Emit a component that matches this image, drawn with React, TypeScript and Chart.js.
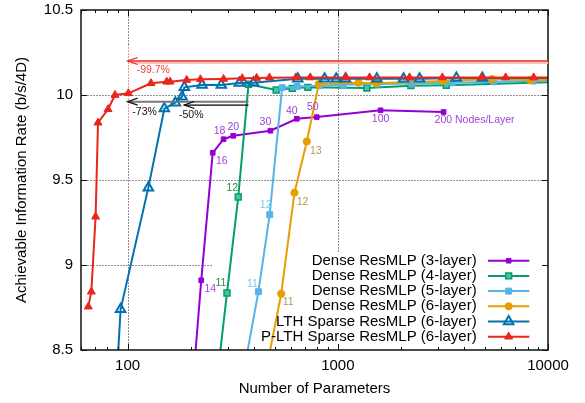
import React, { useEffect, useRef } from 'react';
import { Chart, registerables } from 'chart.js';

Chart.register(...registerables);

const FONT = "'Liberation Sans', Arial, Helvetica, sans-serif";

// tick labels
const xTickValues = [100, 1000, 10000];
const yTickValues = [8.5, 9, 9.5, 10, 10.5];
const xMinorTicks = [60, 70, 80, 90, 200, 300, 400, 500, 600, 700, 800, 900, 2000, 3000, 4000, 5000, 6000, 7000, 8000, 9000];

// series names
const seriesNames = [
  'Dense ResMLP (3-layer)',
  'Dense ResMLP (4-layer)',
  'Dense ResMLP (5-layer)',
  'Dense ResMLP (6-layer)',
  'LTH Sparse ResMLP (6-layer)',
  'P-LTH Sparse ResMLP (6-layer)',
];

// Dense ResMLP (3-layer)
const dense3X = [198, 224, 254, 286, 318, 478, 638, 794, 1597, 3186];
const dense3Y = [8.09, 8.91, 9.66, 9.74, 9.76, 9.79, 9.86, 9.87, 9.91, 9.9];
// Dense ResMLP (4-layer)
const dense4X = [253, 297, 336, 376, 509, 607, 720, 1374, 2227, 3281, 13000];
const dense4Y = [8.09, 8.835, 9.4, 10.063, 10.029, 10.039, 10.045, 10.041, 10.055, 10.057, 10.08];
// Dense ResMLP (5-layer)
const dense5X = [324, 419, 474, 543, 640, 820, 1060, 1550, 2250, 3500, 5500, 8500, 13000];
const dense5Y = [8.09, 8.843, 9.296, 10.043, 10.05, 10.055, 10.06, 10.065, 10.068, 10.072, 10.078, 10.082, 10.085];
// Dense ResMLP (6-layer)
const dense6X = [410, 538, 622, 712, 812, 1255, 1524, 3163, 5408, 8244, 13000];
const dense6Y = [8.09, 8.831, 9.425, 9.727, 10.065, 10.072, 10.069, 10.082, 10.094, 10.088, 10.09];
// LTH Sparse ResMLP (6-layer)
const lthX = [86.4, 92.6, 125.5, 149.5, 168.7, 181.6, 186.2, 226, 279, 340, 397, 645, 865, 983, 1088, 1533, 2055, 2449, 3663, 4870, 13000];
const lthY = [8.09, 8.739, 9.455, 9.92, 9.955, 9.99, 10.045, 10.059, 10.059, 10.07, 10.072, 10.095, 10.095, 10.095, 10.095, 10.095, 10.095, 10.095, 10.1, 10.1, 10.1];
// P-LTH Sparse ResMLP (6-layer)
const plthX = [65, 67.2, 70.4, 72.3, 80.7, 87.1, 100.8, 129.2, 153.4, 159.2, 191, 222, 286, 351, 411, 473, 632, 739, 1096, 1416, 2193, 3142, 4833, 6290, 8550, 13000];
const plthY = [8.755, 8.843, 9.284, 9.837, 9.916, 10.0, 10.01, 10.069, 10.078, 10.078, 10.088, 10.092, 10.094, 10.098, 10.1, 10.102, 10.103, 10.103, 10.103, 10.103, 10.103, 10.103, 10.103, 10.103, 10.103, 10.103];

const seriesX = [dense3X, dense4X, dense5X, dense6X, lthX, plthX];
const seriesY = [dense3Y, dense4Y, dense5Y, dense6Y, lthY, plthY];

// styles
const lineColors = ['#9400D3', '#009E73', '#56B4E9', '#E69F00', '#0072B2', '#E8261C'];
const labelColors = ['#A33FDB', '#2D8A43', '#7CC6EF', '#B89455'];
const pointStyles = ['rect', 'rect', 'rect', 'circle', 'triangle', 'triangle'];
const pointRadii = [3.3, 4.2, 4.2, 3.6, 5.5, 4.6];
const pointFills = ['#9400D3', '#4FC29C', '#56B4E9', '#E69F00', 'rgba(255,255,255,0)', '#E8261C'];
const pointBorderWidths = [1, 1.5, 1, 1, 2, 1];

// node-count labels: series, point index, text, pixel offset
const nodeLabels = [
  { s: 0, i: 1, t: '14', dx: 9, dy: 9 },
  { s: 0, i: 2, t: '16', dx: 9, dy: 8 },
  { s: 0, i: 3, t: '18', dx: -4, dy: -8 },
  { s: 0, i: 4, t: '20', dx: 0, dy: -9 },
  { s: 0, i: 5, t: '30', dx: -5, dy: -9 },
  { s: 0, i: 6, t: '40', dx: -5, dy: -8 },
  { s: 0, i: 7, t: '50', dx: -4, dy: -10 },
  { s: 0, i: 8, t: '100', dx: 0, dy: 9 },
  { s: 0, i: 9, t: '200 Nodes/Layer', dx: 31, dy: 8.5 },
  { s: 1, i: 1, t: '11', dx: -6, dy: -10 },
  { s: 1, i: 2, t: '12', dx: -6, dy: -9 },
  { s: 2, i: 1, t: '11', dx: -6, dy: -8 },
  { s: 2, i: 2, t: '12', dx: -4, dy: -10 },
  { s: 3, i: 1, t: '11', dx: 7, dy: 8 },
  { s: 3, i: 2, t: '12', dx: 8, dy: 9 },
  { s: 3, i: 3, t: '13', dx: 9, dy: 10 },
];

function drawMarker(ctx: CanvasRenderingContext2D, style: string, x: number, y: number, r: number, fill: string, stroke: string, bw: number) {
  ctx.beginPath();
  if (style === 'rect') {
    const s = r * Math.SQRT1_2;
    ctx.rect(x - s, y - s, 2 * s, 2 * s);
  } else if (style === 'circle') {
    ctx.arc(x, y, r, 0, Math.PI * 2);
  } else {
    ctx.moveTo(x, y - r);
    ctx.lineTo(x + 0.866 * r, y + 0.5 * r);
    ctx.lineTo(x - 0.866 * r, y + 0.5 * r);
  }
  ctx.closePath();
  ctx.fillStyle = fill;
  ctx.fill();
  ctx.lineWidth = bw;
  ctx.strokeStyle = stroke;
  ctx.stroke();
}

function arrowLeft(ctx: CanvasRenderingContext2D, xHead: number, xTail: number, y: number, lineColor: string, headColor: string, lw: number) {
  ctx.save();
  ctx.setLineDash([]);
  ctx.strokeStyle = lineColor;
  ctx.lineWidth = lw;
  ctx.beginPath();
  ctx.moveTo(xTail, y);
  ctx.lineTo(xHead, y);
  ctx.stroke();
  ctx.strokeStyle = headColor;
  ctx.lineWidth = 1.2;
  ctx.beginPath();
  ctx.moveTo(xHead + 10, y - 3.5);
  ctx.lineTo(xHead, y);
  ctx.lineTo(xHead + 10, y + 3.5);
  ctx.stroke();
  ctx.restore();
}

const framePlugin = {
  id: 'gnuframe',
  beforeDatasetsDraw(chart: any) {
    const { ctx, scales } = chart;
    const xs = scales.x, ys = scales.y;
    ctx.save();
    ctx.strokeStyle = '#222';
    ctx.lineWidth = 1;
    ctx.setLineDash([1, 2]);
    const seg = (x1: number, y1: number, x2: number, y2: number) => {
      ctx.beginPath();
      ctx.moveTo(Math.round(xs.getPixelForValue(x1)) + 0.5, Math.round(ys.getPixelForValue(y1)) + 0.5);
      ctx.lineTo(Math.round(xs.getPixelForValue(x2)) + 0.5, Math.round(ys.getPixelForValue(y2)) + 0.5);
      ctx.stroke();
    };
    seg(100, 10.5, 100, 10.3);
    seg(100, 9.8, 100, 8.5);
    seg(1000, 10.5, 1000, 9.07);
    seg(60, 10, 10000, 10);
    seg(60, 9.5, 10000, 9.5);
    seg(60, 9, 253, 9);
    // red dotted marker at 100 parameters
    ctx.strokeStyle = '#E8261C';
    seg(100, 10.3, 100, 9.8);
    ctx.restore();
  },
  afterDatasetsDraw(chart: any) {
    const { ctx, chartArea: a, scales } = chart;
    const xs = scales.x, ys = scales.y;
    ctx.save();
    // border
    ctx.strokeStyle = '#111';
    ctx.lineWidth = 1.5;
    ctx.strokeRect(a.left, a.top, a.right - a.left, a.bottom - a.top);
    // inward ticks
    ctx.lineWidth = 1;
    const tick = (x1: number, y1: number, x2: number, y2: number) => {
      ctx.beginPath();
      ctx.moveTo(x1, y1);
      ctx.lineTo(x2, y2);
      ctx.stroke();
    };
    xTickValues.forEach((v) => {
      const px = Math.round(xs.getPixelForValue(v)) + 0.5;
      tick(px, a.bottom, px, a.bottom - 6);
      tick(px, a.top, px, a.top + 6);
    });
    xMinorTicks.forEach((v) => {
      const px = Math.round(xs.getPixelForValue(v)) + 0.5;
      tick(px, a.bottom, px, a.bottom - 3);
      tick(px, a.top, px, a.top + 3);
    });
    yTickValues.forEach((v) => {
      const py = Math.round(ys.getPixelForValue(v)) + 0.5;
      tick(a.left, py, a.left + 6, py);
      tick(a.right, py, a.right - 6, py);
    });

    // annotations
    const redY = ys.getPixelForValue(10.2);
    const x100 = xs.getPixelForValue(100);
    ctx.strokeStyle = '#F7C4C0';
    ctx.lineWidth = 2;
    tick(x100 + 4, redY + 2, a.right, redY + 2);
    arrowLeft(ctx, x100, a.right, redY, '#E8261C', '#E8261C', 1.3);
    ctx.font = `10.5px ${FONT}`;
    ctx.textBaseline = 'middle';
    ctx.textAlign = 'left';
    ctx.fillStyle = '#F0453A';
    ctx.fillText('-99.7%', x100 + 9, redY + 9);

    const xFrom = xs.getPixelForValue(376);
    const yA = ys.getPixelForValue(9.961);
    const yB = ys.getPixelForValue(9.941);
    const xB = xs.getPixelForValue(186);
    arrowLeft(ctx, x100, xFrom, yA, '#777', '#111', 2);
    arrowLeft(ctx, xB, xFrom, yB, '#000', '#000', 1.3);
    ctx.fillStyle = '#111';
    ctx.textAlign = 'center';
    ctx.fillText('-73%', x100 + 17, yA + 10);
    ctx.fillText('-50%', xB + 7, yB + 10);

    // node labels
    nodeLabels.forEach((l) => {
      const px = xs.getPixelForValue(seriesX[l.s][l.i]);
      const py = ys.getPixelForValue(seriesY[l.s][l.i]);
      ctx.fillStyle = labelColors[l.s];
      ctx.textAlign = 'center';
      ctx.fillText(l.t, px + l.dx, py + l.dy);
    });

    // legend
    ctx.font = `15px ${FONT}`;
    ctx.textAlign = 'right';
    ctx.textBaseline = 'middle';
    const textRight = a.right - 71.3;
    const lineL = a.right - 60;
    const lineR = a.right - 18.7;
    const firstRow = a.bottom - 89.3;
    seriesNames.forEach((name, i) => {
      const y = firstRow + i * 15.2;
      ctx.fillStyle = '#000';
      ctx.fillText(name, textRight, y);
      ctx.strokeStyle = lineColors[i];
      ctx.lineWidth = 2;
      ctx.beginPath();
      ctx.moveTo(lineL, y);
      ctx.lineTo(lineR, y);
      ctx.stroke();
      drawMarker(ctx, pointStyles[i], (lineL + lineR) / 2, y, pointRadii[i], pointFills[i], lineColors[i], pointBorderWidths[i]);
    });
    ctx.restore();
  },
};

export default function App() {
  const ref = useRef<HTMLCanvasElement>(null);
  useEffect(() => {
    if (!ref.current) return;
    const datasets = seriesNames.map((name, i) => ({
      label: name,
      data: seriesX[i].map((x, j) => ({ x, y: seriesY[i][j] })),
      borderColor: lineColors[i],
      backgroundColor: pointFills[i],
      borderWidth: 2,
      pointStyle: pointStyles[i] as any,
      pointRadius: pointRadii[i],
      pointBackgroundColor: pointFills[i],
      pointBorderColor: lineColors[i],
      pointBorderWidth: pointBorderWidths[i],
      tension: 0,
      fill: false,
      order: seriesNames.length - i,
    }));
    const chart = new Chart(ref.current, {
      type: 'line',
      data: { datasets },
      options: {
        animation: false,
        responsive: false,
        devicePixelRatio: 1,
        layout: { padding: { left: 0, right: 37, top: 10, bottom: 0 } },
        plugins: { legend: { display: false }, tooltip: { enabled: false } },
        scales: {
          x: {
            type: 'logarithmic',
            min: 60,
            max: 10000,
            afterBuildTicks: (s: any) => {
              s.ticks = xTickValues.map((v) => ({ value: v }));
            },
            afterFit: (s: any) => {
              s.height = 53;
              s.paddingLeft = 0;
              s.paddingRight = 0;
            },
            grid: { display: false, drawTicks: false },
            border: { display: false },
            ticks: {
              autoSkip: false,
              maxRotation: 0,
              color: '#000',
              padding: 7,
              font: { family: FONT, size: 15 },
              callback: (v: any) => String(v),
            },
            title: {
              display: true,
              text: 'Number of Parameters',
              color: '#000',
              font: { family: FONT, size: 15 },
              padding: { top: 0, bottom: 5 },
            },
          },
          y: {
            type: 'linear',
            min: 8.5,
            max: 10.5,
            afterBuildTicks: (s: any) => {
              s.ticks = yTickValues.map((v) => ({ value: v }));
            },
            afterFit: (s: any) => {
              s.width = 81;
              s.paddingTop = 0;
              s.paddingBottom = 0;
            },
            grid: { display: false, drawTicks: false },
            border: { display: false },
            ticks: {
              color: '#000',
              padding: 8,
              font: { family: FONT, size: 15 },
              callback: (v: any) => String(v),
            },
            title: {
              display: true,
              text: 'Achievable Information Rate (b/s/4D)',
              color: '#000',
              font: { family: FONT, size: 15 },
              padding: { top: 13, bottom: 0 },
            },
          },
        },
      },
      plugins: [framePlugin],
    } as any);
    return () => chart.destroy();
  }, []);
  return (
    <div style={{ position: 'fixed', left: 0, top: 0, width: 585, height: 403, background: '#fff' }}>
      <canvas ref={ref} width={585} height={403} style={{ width: 585, height: 403, display: 'block' }} />
    </div>
  );
}
